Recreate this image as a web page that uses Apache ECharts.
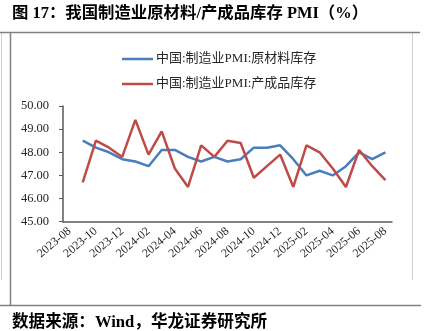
<!DOCTYPE html>
<html>
<head>
<meta charset="utf-8">
<script src="https://cdn.jsdelivr.net/npm/echarts@6/dist/echarts.min.js"></script>
<style>
html,body{margin:0;padding:0;background:#fff;}
#c{width:431px;height:331px;}
</style>
</head>
<body>
<div id="c"></div>
<script>
var categories = ['2023-08','2023-09','2023-10','2023-11','2023-12','2024-01','2024-02','2024-03','2024-04','2024-05','2024-06','2024-07','2024-08','2024-09','2024-10','2024-11','2024-12','2025-01','2025-02','2025-03','2025-04','2025-05','2025-06','2025-07','2025-08'];
var rawMaterial = [null,48.5,48.2,48.0,47.7,47.6,47.4,48.1,48.1,47.8,47.6,47.8,47.6,47.7,48.2,48.2,48.3,47.7,47.0,47.2,47.0,47.4,48.0,47.7,48.0];
var finishedGoods = [null,46.7,48.5,48.2,47.8,49.4,47.9,48.9,47.3,46.5,48.3,47.8,48.5,48.4,46.9,47.4,47.9,46.5,48.3,48.0,47.3,46.5,48.1,47.4,46.8];
var seriesNames = ['中国:制造业PMI:原材料库存','中国:制造业PMI:产成品库存'];
var titleText = '图 17：我国制造业原材料/产成品库存 PMI（%）';
var sourceText = '数据来源：Wind，华龙证券研究所';

var serif = '"Liberation Serif", "Noto Sans CJK SC", serif';
var chart = echarts.init(document.getElementById('c'));
chart.setOption({
  animation: false,
  backgroundColor: '#fff',
  grid: {left: 63, right: 39, top: 106, bottom: 109.3, containLabel: false},
  legend: {
    orient: 'vertical',
    left: 117,
    top: 47,
    icon: 'rect',
    itemWidth: 31,
    itemHeight: 2.5,
    itemGap: 11,
    textStyle: {fontFamily: serif, fontSize: 13, color: '#262626', lineHeight: 14, padding: [0,0,0,-2]},
    data: seriesNames
  },
  xAxis: {
    type: 'category',
    data: categories,
    boundaryGap: true,
    axisLine: {lineStyle: {color: '#595959', width: 1.5}},
    axisTick: {interval: 1, length: 5, lineStyle: {color: '#595959', width: 1}},
    axisLabel: {interval: 1, rotate: 40, margin: 8, fontFamily: serif, fontSize: 12, color: '#262626'}
  },
  yAxis: {
    type: 'value',
    min: 45,
    max: 50,
    interval: 1,
    splitLine: {show: false},
    axisLine: {show: true, lineStyle: {color: '#595959', width: 1.5}},
    axisTick: {show: true, length: 4, lineStyle: {color: '#595959', width: 1}},
    axisLabel: {margin: 14, fontFamily: serif, fontSize: 12.5, color: '#262626', formatter: function(v){return v.toFixed(2);}}
  },
  series: [
    {name: seriesNames[0], type: 'line', data: rawMaterial, symbol: 'none', connectNulls: false,
     lineStyle: {color: '#4A7EBB', width: 2.5}, itemStyle: {color: '#4A7EBB'}},
    {name: seriesNames[1], type: 'line', data: finishedGoods, symbol: 'none', connectNulls: false,
     lineStyle: {color: '#BE4B48', width: 2.5}, itemStyle: {color: '#BE4B48'}}
  ],
  graphic: [
    {type: 'line', shape: {x1: 1.5, y1: 32, x2: 1.5, y2: 280}, style: {stroke: '#d0d0d0', lineWidth: 1}},
    {type: 'line', shape: {x1: 412.5, y1: 32, x2: 412.5, y2: 280}, style: {stroke: '#d0d0d0', lineWidth: 1}},
    {type: 'line', shape: {x1: 0, y1: 32.5, x2: 420, y2: 32.5}, style: {stroke: '#808080', lineWidth: 1.5}},
    {type: 'line', shape: {x1: 10.5, y1: 32, x2: 10.5, y2: 305}, style: {stroke: '#808080', lineWidth: 1.5}},
    {type: 'line', shape: {x1: 0, y1: 305.5, x2: 421, y2: 305.5}, style: {stroke: '#808080', lineWidth: 1.5}},
    {type: 'text', x: 12, y: 14, style: {text: titleText, fill: '#000', font: 'bold 16.4px ' + serif, textVerticalAlign: 'middle'}},
    {type: 'text', x: 12, y: 323, style: {text: sourceText, fill: '#000', font: 'bold 16.6px ' + serif, textVerticalAlign: 'middle'}}
  ]
});
</script>
</body>
</html>
